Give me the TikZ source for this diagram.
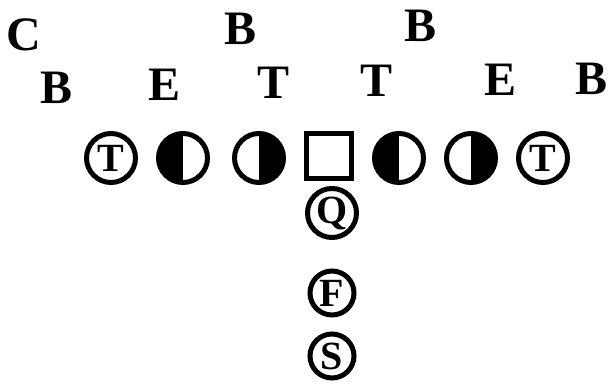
\documentclass[tikz,border=0pt]{standalone}
\usepackage{fontspec}
\setmainfont{Liberation Serif}
\tikzset{
  player/.style={circle, draw=black, line width=5pt, minimum size=49pt,
    inner sep=0pt, font=\fontsize{40}{40}\selectfont\bfseries},
  halfleft/.style={player, path picture={
    \fill[black] (path picture bounding box.south west) rectangle (path picture bounding box.north);}},
  halfright/.style={player, path picture={
    \fill[black] (path picture bounding box.south) rectangle (path picture bounding box.north east);}},
  snapbox/.style={rectangle, draw=black, line width=5pt, minimum size=45pt, inner sep=0pt},
  letter/.style={font=\fontsize{48}{48}\selectfont\bfseries, inner sep=0pt}
}

\begin{document}
\begin{tikzpicture}[x=1pt, y=1pt]
  \useasboundingbox (0,0) rectangle (610,384);

  % Defense, back row
  \node[letter] (cb) at (24,349) {C};
  \node[letter] (lb) at (241,355) {B};
  \node[letter] (rb) at (421,358) {B};

  % Defense, front row
  \node[letter] (olb) at (57,296) {B};
  \node[letter] (le) at (165,299) {E};
  \node[letter] (lt) at (274,301) {T};
  \node[letter] (rt) at (377,303) {T};
  \node[letter] (re) at (501,304) {E};
  \node[letter] (orb) at (591,305) {B};

  % Offensive line
  \node[player] (lte) at (111,226) {T};
  \node[halfleft] (lg1) at (183,226) {};
  \node[halfright] (lg2) at (259,226) {};
  \node[snapbox] (snap) at (329,228) {};
  \node[halfleft] (rg1) at (399,226) {};
  \node[halfright] (rg2) at (471,226) {};
  \node[player] (rte) at (543,226) {T};

  % Backfield
  \node[player] (qb) at (332,171) {Q};
  \node[player, minimum size=44pt] (fb) at (332,91) {F};
  \node[player, minimum size=44pt] (sb) at (332,28) {S};
\end{tikzpicture}
\end{document}
